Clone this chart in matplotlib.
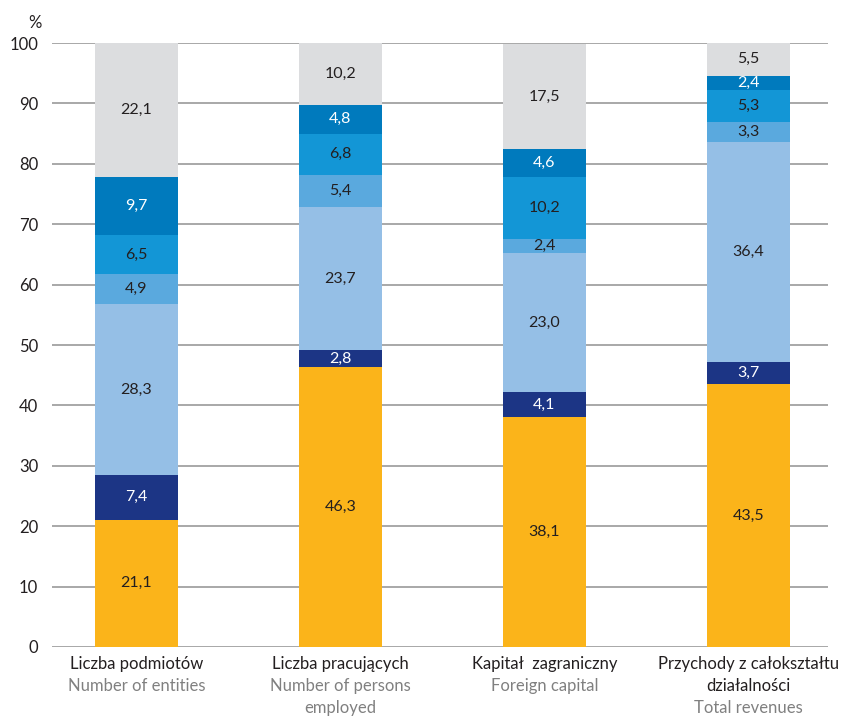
import matplotlib
matplotlib.use("Agg")
import matplotlib.pyplot as plt
import numpy as np

plt.rcParams['font.family'] = ['Lato', 'DejaVu Sans']

categories_pl = ["Liczba podmiotów", "Liczba pracujących", "Kapitał  zagraniczny", "Przychody z całokształtu\ndziałalności"]
categories_en = ["Number of entities", "Number of persons\nemployed", "Foreign capital", "Total revenues"]

# segments bottom to top
seg1 = [21.1, 46.3, 38.1, 43.5]
seg2 = [7.4, 2.8, 4.1, 3.7]
seg3 = [28.3, 23.7, 23.0, 36.4]
seg4 = [4.9, 5.4, 2.4, 3.3]
seg5 = [6.5, 6.8, 10.2, 5.3]
seg6 = [9.7, 4.8, 4.6, 2.4]
seg7 = [22.1, 10.2, 17.5, 5.5]

series = [seg1, seg2, seg3, seg4, seg5, seg6, seg7]
colors = ["#FBB41A", "#1C3585", "#95BFE6", "#5AA9DE", "#1396D6", "#007ABD", "#DCDDDF"]
label_colors = ["#231F20", "white", "#231F20", "#231F20", "#231F20", "white", "#231F20"]

fig = plt.figure(figsize=(8.47, 7.18), dpi=100)
ax = fig.add_axes([0.0614, 0.0989, 0.9776 - 0.0614, 0.940 - 0.0989])

x = np.arange(len(categories_pl))
width = 0.407
bottom = np.zeros(len(x))
for vals, c, lc in zip(series, colors, label_colors):
    vals = np.array(vals)
    ax.bar(x, vals, width, bottom=bottom, color=c, zorder=3, linewidth=0)
    for xi, b, v in zip(x, bottom, vals):
        ax.text(xi, b + v / 2, f"{v:.1f}".replace(".", ","), ha="center", va="center",
                fontsize=11.5, color=lc, zorder=4)
    bottom += vals

ax.set_ylim(0, 100)
ax.set_xlim(-0.414, 3.39)
ax.set_yticks(np.arange(0, 101, 10))
ax.yaxis.grid(True, color="#9A9A9A", linewidth=1.2, zorder=0)
ax.set_axisbelow(True)
for s in ax.spines.values():
    s.set_visible(False)
ax.tick_params(axis="y", length=0, labelsize=12, labelcolor="#231F20", pad=10)
ax.tick_params(axis="x", length=0)
ax.set_xticks([])

ax.text(-0.50, 102.0, "%", transform=ax.transData, ha="center", va="bottom", fontsize=12, color="#231F20", clip_on=False)

step_px = 21.8
for xi, pl, en in zip(x, categories_pl, categories_en):
    lines = [(t, "#231F20") for t in pl.split("\n")] + [(t, "#808080") for t in en.split("\n")]
    for i, (t, col) in enumerate(lines):
        off_px = 17 + step_px * i
        ax.annotate(t, xy=(xi, 0), xycoords="data", xytext=(0, -off_px * 72 / 100), textcoords="offset points",
                    ha="center", va="center", fontsize=12, color=col)

fig.savefig("out.png", dpi=100)
